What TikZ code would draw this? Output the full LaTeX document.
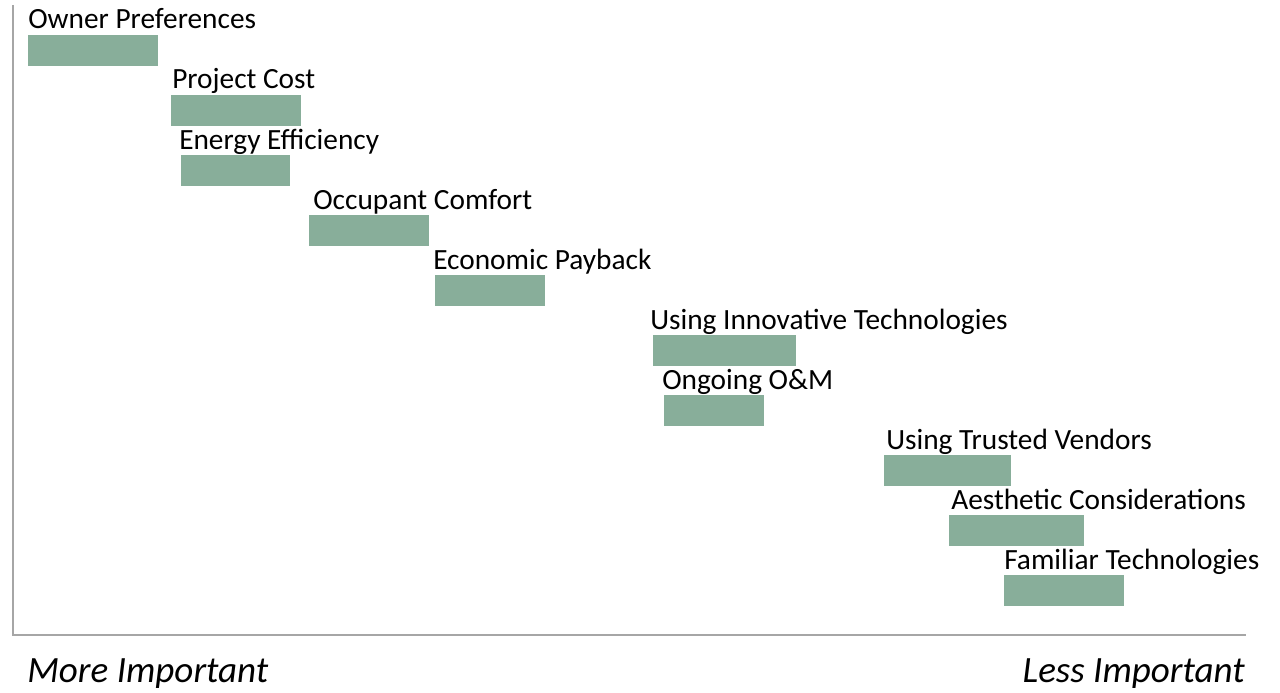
\documentclass[tikz,border=0pt]{standalone}
\usepackage{fontspec}
\setmainfont{Carlito}
\usepackage{tikz}

\definecolor{barfill}{HTML}{88AE9A}
\definecolor{axisgray}{HTML}{A6A6A6}

\tikzset{
  bar/.style={fill=barfill,draw=none,inner sep=0pt,minimum height=23.25pt,anchor=north west},
  lbl/.style={inner sep=0pt,anchor=base west,font=\fontsize{22}{26}\selectfont},
  axislbl/.style={inner sep=0pt,font=\fontsize{27.8}{33}\selectfont\itshape}
}

\begin{document}
\begin{tikzpicture}[x=0.75pt,y=-0.75pt]
\useasboundingbox (0,0) rectangle (1280,692);

\coordinate (top) at (13,5);
\coordinate (o) at (13,635);
\coordinate (end) at (1246,635);
\draw[axisgray,line width=1.5pt] (top)--(o)--(end);

% one bar per criterion, label just above it
\foreach \i/\bx/\by/\bw/\tx/\txt in {
  1/28/35/130/28/Owner Preferences,
  2/171/95/130/172/Project Cost,
  3/181/155/109/179/Energy Efficiency,
  4/309/215/120/313/Occupant Comfort,
  5/435/275/110/433/Economic Payback,
  6/653/335/143/650/Using Innovative Technologies,
  7/664/395/100/662/Ongoing O\&M,
  8/884/455/127/886/Using Trusted Vendors,
  9/949/515/135/951/Aesthetic Considerations,
  10/1004/575/120/1004/Familiar Technologies}
{
  \node[bar,minimum width={\bw*0.75pt}] (bar\i) at (\bx,\by) {};
  \node[lbl] (lbl\i) at (\tx,\by-6) {\txt};
}

\node[axislbl,anchor=base west] (more) at (27,682) {More Important};
\node[axislbl,anchor=base east] (less) at (1245,682) {Less Important};
\end{tikzpicture}
\end{document}
